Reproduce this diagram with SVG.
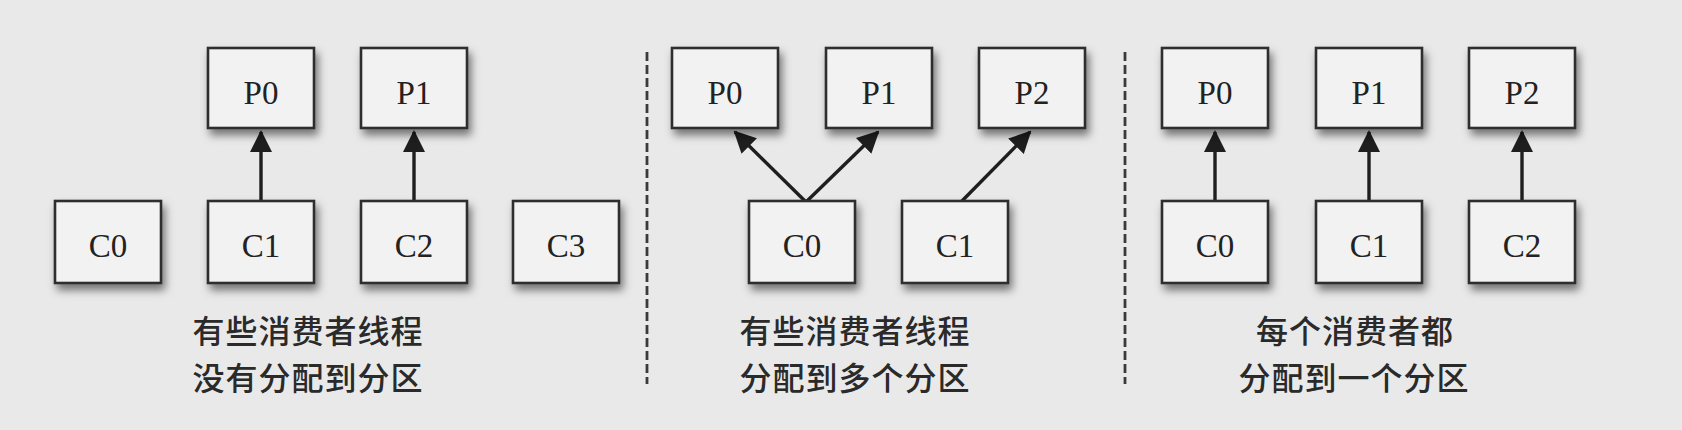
<svg xmlns="http://www.w3.org/2000/svg" width="1682" height="430" viewBox="0 0 1682 430">
<defs>
<style>
.box{fill:#f2f2f2;stroke:#2e2e2e;stroke-width:2.6;filter:url(#sh)}
.lbl{font-family:"Liberation Serif","Times New Roman",serif;font-size:33px;fill:#222;text-anchor:middle}
.cap{font-family:"Noto Sans CJK SC","Noto Sans",sans-serif;font-size:32px;font-weight:500;letter-spacing:1px;fill:#2a2a2a;text-anchor:middle}
.arr{stroke:#1e1e1e;stroke-width:3.4;fill:none;marker-end:url(#ah)}
.div{stroke:#3a3a3a;stroke-width:2.8;stroke-dasharray:9 4;fill:none}
</style>
<filter id="sh" x="-20%" y="-20%" width="150%" height="160%">
<feDropShadow dx="3" dy="6" stdDeviation="4.5" flood-color="#000" flood-opacity="0.5"/>
</filter>
<marker id="ah" viewBox="0 0 22 24" refX="20" refY="12" markerWidth="22" markerHeight="24" markerUnits="userSpaceOnUse" orient="auto">
<path d="M0,1 L22,12 L0,23 z" fill="#1e1e1e"/>
</marker>
</defs>
<rect x="0" y="0" width="1682" height="430" fill="#e9e9e9"/>

<g id="connectors">
<line class="arr" x1="261" y1="201" x2="261" y2="132"/>
<line class="arr" x1="414" y1="201" x2="414" y2="132"/>
<line class="arr" x1="806" y1="202" x2="735" y2="132"/>
<line class="arr" x1="806" y1="202" x2="878" y2="132"/>
<line class="arr" x1="961" y1="202" x2="1030" y2="132"/>
<line class="arr" x1="1215" y1="201" x2="1215" y2="132"/>
<line class="arr" x1="1369" y1="201" x2="1369" y2="132"/>
<line class="arr" x1="1522" y1="201" x2="1522" y2="132"/>
</g>

<g id="dividers">
<line class="div" x1="647" y1="52" x2="647" y2="384"/>
<line class="div" x1="1125" y1="52" x2="1125" y2="384"/>
</g>

<!-- Panel 1 -->
<g id="p1-P0"><rect class="box" x="208" y="48" width="106" height="80"/><text class="lbl" x="261" y="104">P0</text></g>
<g id="p1-P1"><rect class="box" x="361" y="48" width="106" height="80"/><text class="lbl" x="414" y="104">P1</text></g>
<g id="p1-C0"><rect class="box" x="55" y="201" width="106" height="82"/><text class="lbl" x="108" y="257">C0</text></g>
<g id="p1-C1"><rect class="box" x="208" y="201" width="106" height="82"/><text class="lbl" x="261" y="257">C1</text></g>
<g id="p1-C2"><rect class="box" x="361" y="201" width="106" height="82"/><text class="lbl" x="414" y="257">C2</text></g>
<g id="p1-C3"><rect class="box" x="513" y="201" width="106" height="82"/><text class="lbl" x="566" y="257">C3</text></g>
<g id="p1-caption">
<text class="cap" x="308" y="343">有些消费者线程</text>
<text class="cap" x="308" y="390">没有分配到分区</text>
</g>

<!-- Panel 2 -->
<g id="p2-P0"><rect class="box" x="672" y="48" width="106" height="80"/><text class="lbl" x="725" y="104">P0</text></g>
<g id="p2-P1"><rect class="box" x="826" y="48" width="106" height="80"/><text class="lbl" x="879" y="104">P1</text></g>
<g id="p2-P2"><rect class="box" x="979" y="48" width="106" height="80"/><text class="lbl" x="1032" y="104">P2</text></g>
<g id="p2-C0"><rect class="box" x="749" y="201" width="106" height="82"/><text class="lbl" x="802" y="257">C0</text></g>
<g id="p2-C1"><rect class="box" x="902" y="201" width="106" height="82"/><text class="lbl" x="955" y="257">C1</text></g>
<g id="p2-caption">
<text class="cap" x="855" y="343">有些消费者线程</text>
<text class="cap" x="855" y="390">分配到多个分区</text>
</g>

<!-- Panel 3 -->
<g id="p3-P0"><rect class="box" x="1162" y="48" width="106" height="80"/><text class="lbl" x="1215" y="104">P0</text></g>
<g id="p3-P1"><rect class="box" x="1316" y="48" width="106" height="80"/><text class="lbl" x="1369" y="104">P1</text></g>
<g id="p3-P2"><rect class="box" x="1469" y="48" width="106" height="80"/><text class="lbl" x="1522" y="104">P2</text></g>
<g id="p3-C0"><rect class="box" x="1162" y="201" width="106" height="82"/><text class="lbl" x="1215" y="257">C0</text></g>
<g id="p3-C1"><rect class="box" x="1316" y="201" width="106" height="82"/><text class="lbl" x="1369" y="257">C1</text></g>
<g id="p3-C2"><rect class="box" x="1469" y="201" width="106" height="82"/><text class="lbl" x="1522" y="257">C2</text></g>
<g id="p3-caption">
<text class="cap" x="1355" y="343">每个消费者都</text>
<text class="cap" x="1354" y="390">分配到一个分区</text>
</g>
</svg>
